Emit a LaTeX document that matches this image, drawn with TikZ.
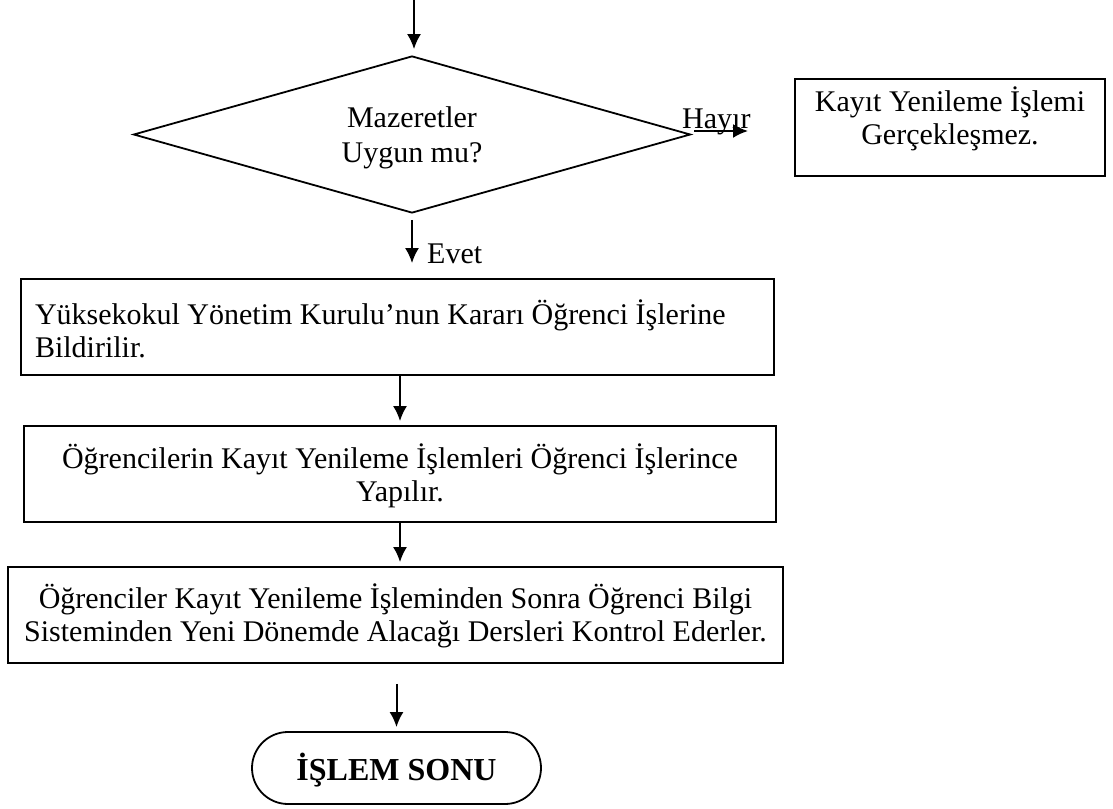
\documentclass[tikz,border=0pt]{standalone}
\usepackage{fontspec}
\setmainfont{Liberation Serif}
\usetikzlibrary{shapes,arrows,arrows.meta}
\tikzstyle{line} = [draw, line width=2pt, -{Latex[length=15pt,width=14pt]}]
\tikzstyle{kutu} = [draw, line width=1.8pt, rectangle, inner sep=0pt, align=flush center]
\tikzstyle{karar} = [draw, line width=1.8pt, diamond, aspect=3.55, inner sep=0pt, align=flush center]
\tikzstyle{bitis} = [draw, line width=1.8pt, rounded rectangle, inner sep=0pt]

\begin{document}
\begin{tikzpicture}[x=1pt, y=-1pt, font=\fontsize{30}{33}\selectfont]
            \useasboundingbox (0,0) rectangle (1113,808);

            % karar
            \coordinate (basla) at (414,0);
            \node[karar, minimum width=557pt, minimum height=157pt, text width=200pt, text height=30pt, text depth=45pt] (mazeret) at (412,134.5) {Mazeretler\\[2pt]Uygun mu?};
            \draw[line, shorten >=6pt] (basla) -- (basla |- mazeret.north);

            % hayir kolu
            \node[kutu, minimum width=310pt, minimum height=97pt, text width=300pt, text height=32pt, text depth=65pt] (yok) at (950,127.5) {Kay\i t Yenileme \.I\c slemi\\Ger\c{c}ekle\c smez.};
            \coordinate (hayiruc) at (748,131);
            \draw[line, shorten <=3pt] (mazeret.east |- hayiruc) -- (hayiruc);
            \node[anchor=base west, inner sep=0pt] (hayir) at (682,128) {Hay\i r};

            % evet kolu
            \node[kutu, minimum width=753pt, minimum height=96pt, text height=45pt, text depth=51pt, text width=725pt, align=flush left] (karar) at (397.5,327) {Y\"uksekokul Y\"onetim Kurulu’nun Karar\i{} \"O\u{g}renci \.I\c slerine\\Bildirilir.};
            \draw[line, shorten <=6pt, shorten >=15pt] (mazeret.south) -- (mazeret.south |- karar.north);
            \node[anchor=base west, inner sep=0pt] (evet) at (427,263) {Evet};

            \node[kutu, minimum width=752pt, minimum height=96pt, text width=740pt, text height=42pt, text depth=54pt] (kayit) at (400,474) {\"O\u{g}rencilerin Kay\i t Yenileme \.I\c slemleri \"O\u{g}renci \.I\c slerince\\Yap\i l\i r.};
            \draw[line, shorten >=4pt] (kayit.north |- karar.south) -- (kayit.north);

            \node[kutu, minimum width=775pt, minimum height=96pt, text width=765pt, text height=41pt, text depth=55pt] (kontrol) at (395.5,615) {\"O\u{g}renciler Kay\i t Yenileme \.I\c sleminden Sonra \"O\u{g}renci Bilgi\\Sisteminden Yeni D\"onemde Alaca\u{g}\i{} Dersleri Kontrol Ederler.};
            \draw[line, shorten >=4pt] (kayit.south) -- (kayit.south |- kontrol.north);

            \node[bitis, minimum width=289pt, minimum height=72pt, text height=24pt, text depth=0pt, font=\fontsize{32}{34}\selectfont\bfseries] (son) at (396.5,768) {\.I\c SLEM SONU};
            \draw[line, shorten <=20pt, shorten >=4pt] (son.north |- kontrol.south) -- (son.north);
\end{tikzpicture}
\end{document}
